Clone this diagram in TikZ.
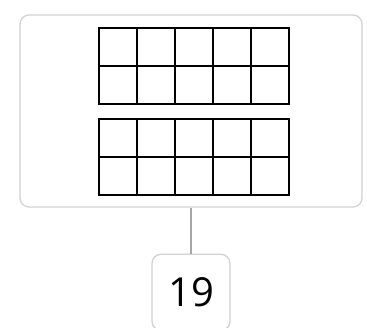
\documentclass[tikz,border=0pt]{standalone}
\usepackage{fontspec}
\setmainfont{Open Sans}
\usetikzlibrary{positioning}

\begin{document}
\begin{tikzpicture}[x=1pt, y=-1pt,
        card/.style={draw=gray!35, line width=1.3pt, rounded corners=9pt, fill=white},
        tenframe/.style={draw=black, line width=1.1pt}]
        \useasboundingbox (0, 0) rectangle (367, 327);

        % outer card
        \node[card, minimum width=342pt, minimum height=192pt] (frame) at (191, 111) {};

        % two ten-frames
        \foreach \top in {28, 119} {
            \foreach \i in {0, 1, ..., 4} {
                \foreach \j in {0, 1} {
                    \draw[tenframe] (99 + \i*38, \top + \j*38) rectangle ++(38, 38);
                }
            }
        }

        % answer box
        \node[card, minimum width=78pt, minimum height=76pt, font=\fontsize{40}{40}\selectfont,
              below=46pt of frame.south, anchor=north] (total) {19};

        \draw[gray!70, line width=1.2pt] (frame.south) -- (total.north);

    \end{tikzpicture}
\end{document}
